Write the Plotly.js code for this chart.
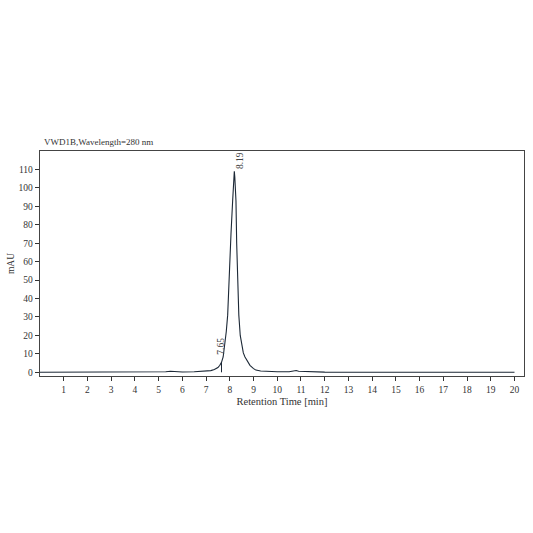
<!DOCTYPE html>
<html><head><meta charset="utf-8">
<script src="https://cdn.plot.ly/plotly-3.0.1.min.js"></script>
<style>html,body{margin:0;padding:0;background:#fff}#chart{width:533px;height:533px}</style>
</head><body><div id="chart"></div>
<script>
const chartTitle = "VWD1B,Wavelength=280 nm";
const xTitle = "Retention Time [min]";
const yTitle = "mAU";
const time = [0,1,2,3,4,5.0,5.3,5.5,5.7,6.0,6.5,7.0,7.2,7.35,7.5,7.58,7.65,7.72,7.79,7.85,7.91,7.97,8.05,8.12,8.15,8.17,8.19,8.21,8.23,8.26,8.29,8.33,8.38,8.44,8.50,8.57,8.64,8.75,8.85,9.0,9.1,9.3,9.6,10.0,10.5,10.7,10.8,10.9,11.1,11.5,11.7,12,13,14,15,16,17,18,19,20];
const signal = [0,0,0,0,0,0.1,0.3,0.6,0.3,0.2,0.3,0.5,0.9,1.5,2.6,3.8,5.4,8.3,14.6,22,31,55,75,93,101,106,109,106,100,93,70,48,31,20,14.6,10.5,8.3,5.5,3.8,2.0,1.2,0.7,0.4,0.3,0.3,0.6,1.0,0.6,0.5,0.5,0.3,0.1,0,0,0,0,0,0,0,0];
const peakTimes = [7.65, 8.19];
const peakHeights = [5.4, 109];
const peakLabels = ["7.65", "8.19"];
const xTicks = [1,2,3,4,5,6,7,8,9,10,11,12,13,14,15,16,17,18,19,20];
const yTicks = [0,10,20,30,40,50,60,70,80,90,100,110];

const font = "Liberation Serif, DejaVu Serif, serif";
const traces = [
  {x: time, y: signal, type: "scatter", mode: "lines", line: {color: "#1c2836", width: 1.1}, hoverinfo: "skip"},
  {x: [peakTimes[0], peakTimes[0]], y: [0, peakHeights[0]], type: "scatter", mode: "lines", line: {color: "#1c2836", width: 1}, hoverinfo: "skip"}
];
const layout = {
  width: 533, height: 533,
  margin: {l: 40, r: 9, t: 151, b: 157},
  paper_bgcolor: "#fff", plot_bgcolor: "#fff",
  showlegend: false,
  font: {family: font, size: 9.5, color: "#333"},
  xaxis: {
    range: [0, 20.4], tickvals: xTicks, ticktext: xTicks.map(String),
    ticks: "outside", ticklen: 4, tickcolor: "#333", showgrid: false, zeroline: false,
    showline: true, linecolor: "#444", linewidth: 1.3, mirror: true,
    tickfont: {family: font, size: 9.5, color: "#333"},
    title: {text: xTitle, font: {family: font, size: 10.5, color: "#333"}, standoff: 4}
  },
  yaxis: {
    range: [-2, 120], tickvals: yTicks, ticktext: yTicks.map(String),
    ticks: "outside", ticklen: 4, tickcolor: "#333", showgrid: false, zeroline: false,
    showline: true, linecolor: "#444", linewidth: 1.3, mirror: true,
    tickfont: {family: font, size: 9.5, color: "#333"},
    title: {text: yTitle, font: {family: font, size: 9.5, color: "#333"}, standoff: 2}
  },
  annotations: [
    {text: chartTitle, xref: "paper", yref: "paper", x: 0.005, y: 1, xanchor: "left", yanchor: "bottom", yshift: 2, showarrow: false, font: {family: font, size: 9, color: "#333"}},
    {text: peakLabels[0], x: peakTimes[0], y: 8.5, xref: "x", yref: "y", textangle: -90, xanchor: "center", yanchor: "bottom", showarrow: false, font: {family: font, size: 9.5, color: "#444"}},
    {text: peakLabels[1], x: peakTimes[1], y: peakHeights[1], xref: "x", yref: "y", textangle: -90, xanchor: "center", yanchor: "bottom", xshift: 5, yshift: 0, showarrow: false, font: {family: font, size: 9.5, color: "#444"}}
  ]
};
Plotly.newPlot("chart", traces, layout, {displayModeBar: false, staticPlot: true});
</script></body></html>
